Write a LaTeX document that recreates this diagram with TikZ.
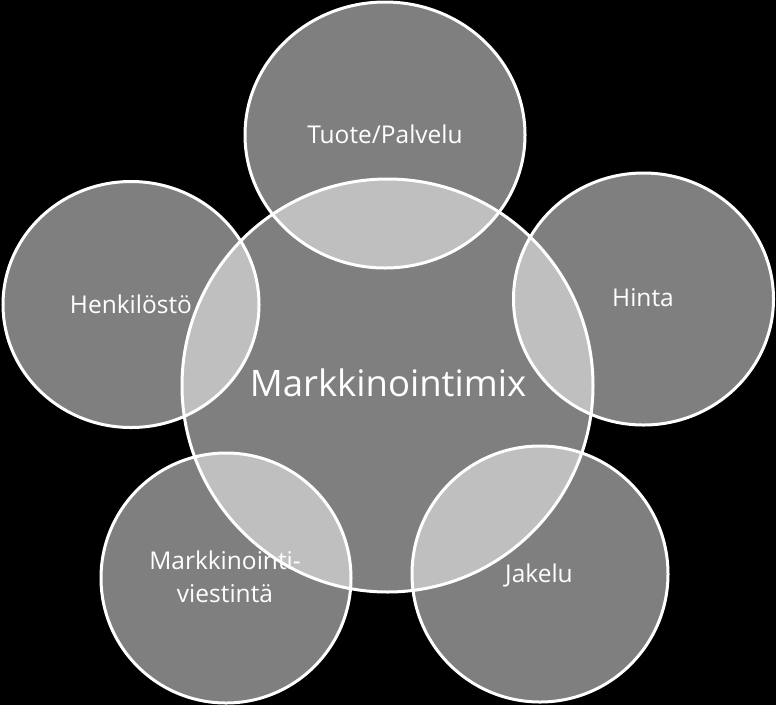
\documentclass[tikz,border=0pt]{standalone}
\usepackage{fontspec}
\setmainfont{Open Sans}
\definecolor{circgray}{HTML}{7F7F7F}
\definecolor{lapgray}{HTML}{BFBFBF}
\begin{document}
\begin{tikzpicture}[x=1pt,y=-1pt,
  outline/.style={draw=white,line width=3pt},
  lbl/.style={text=white,anchor=base,inner sep=0pt,font=\fontsize{24.5}{33}\selectfont},
  biglbl/.style={text=white,anchor=base,inner sep=0pt,font=\fontsize{36.5}{44}\selectfont}]
\fill[black] (0,0) rectangle (776,705);
\useasboundingbox (0,0) rectangle (776,705);
% circles: center and radii
\def\Cmain{(387.5,385.5) ellipse [x radius=205.5,y radius=206.5]}
\def\Ctop{(385,135) ellipse [x radius=140,y radius=133]}
\def\Chinta{(643.5,299) ellipse [x radius=130,y radius=126]}
\def\Chenk{(131,304.5) ellipse [x radius=128,y radius=123]}
\def\Cviest{(226,578) ellipse [x radius=125,y radius=125]}
\def\Cjak{(540,574) ellipse [x radius=128,y radius=128]}
\foreach \c in {\Cmain,\Ctop,\Chinta,\Chenk,\Cviest,\Cjak}{
  \fill[circgray] \c;
}
\begin{scope}
  \clip \Cmain;
  \foreach \c in {\Ctop,\Chinta,\Chenk,\Cviest,\Cjak}{
    \fill[lapgray] \c;
  }
\end{scope}
\foreach \c in {\Cmain,\Ctop,\Chinta,\Chenk,\Cviest,\Cjak}{
  \draw[outline] \c;
}
\node[biglbl] (mix) at (388,396.5) {Markkinointimix};
\node[lbl] (tuote) at (385,143) {Tuote/Palvelu};
\node[lbl] (henk) at (131,313) {Henkilöstö};
\node[lbl] (hinta) at (643,306) {Hinta};
\node[lbl] (viest1) at (225,569) {Markkinointi-};
\node[lbl] (viest2) at (225,602) {viestintä};
\node[lbl] (jakelu) at (539,582) {Jakelu};
\end{tikzpicture}
\end{document}
